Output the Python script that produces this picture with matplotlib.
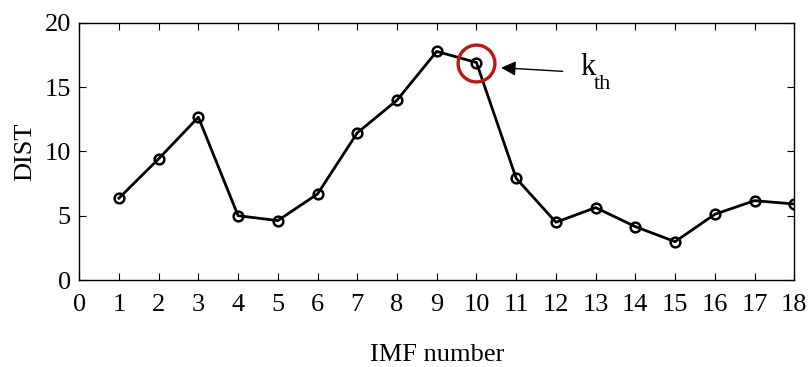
import numpy as np
import matplotlib
matplotlib.use("Agg")
import matplotlib.pyplot as plt

plt.rcParams['font.family'] = 'Liberation Serif'

# DIST value for each IMF
imf = np.arange(1, 19)
dist = [6.36, 9.42, 12.66, 5.0, 4.62, 6.69, 11.44, 13.98, 17.77,
        16.91, 7.91, 4.49, 5.63, 4.15, 2.98, 5.11, 6.17, 5.91]
k_th = 10  # selected IMF

fig = plt.figure(figsize=(8.08, 3.67), dpi=100)
ax = fig.add_axes([0.098, 0.237, 0.885, 0.701])

ax.plot(imf, dist, '-o', color='black', lw=2.0, ms=7, mfc='none', mew=1.8)

# highlight k_th
ax.plot(k_th, dist[k_th - 1], 'o', ms=26.5, mfc='none', mec='#c0141a', mew=2.4)
ax.annotate('', xy=(10.55, 16.52), xytext=(12.24, 16.21),
            arrowprops=dict(arrowstyle='-|>', color='black', lw=1.0, mutation_scale=22))
ax.text(12.61, 15.95, 'k', fontsize=22, va='baseline', ha='left')
ax.annotate('th', xy=(12.61, 15.95), xytext=(10, -10), textcoords='offset points',
            fontsize=16, va='baseline', ha='left')

ax.set_xlim(0, 18)
ax.set_ylim(0, 20)
ax.set_xticks(np.arange(0, 19))
ax.set_yticks([0, 5, 10, 15, 20])
ax.tick_params(direction='in', top=True, right=True, labelsize=19, length=5)
ax.tick_params(axis='x', pad=10)
ax.tick_params(axis='y', pad=6)
for s in ax.spines.values():
    s.set_linewidth(1.0)

ax.set_xlabel('IMF number', fontsize=19, labelpad=20)
ax.set_ylabel('DIST', fontsize=19, labelpad=6)

fig.savefig('out.png', dpi=100)
